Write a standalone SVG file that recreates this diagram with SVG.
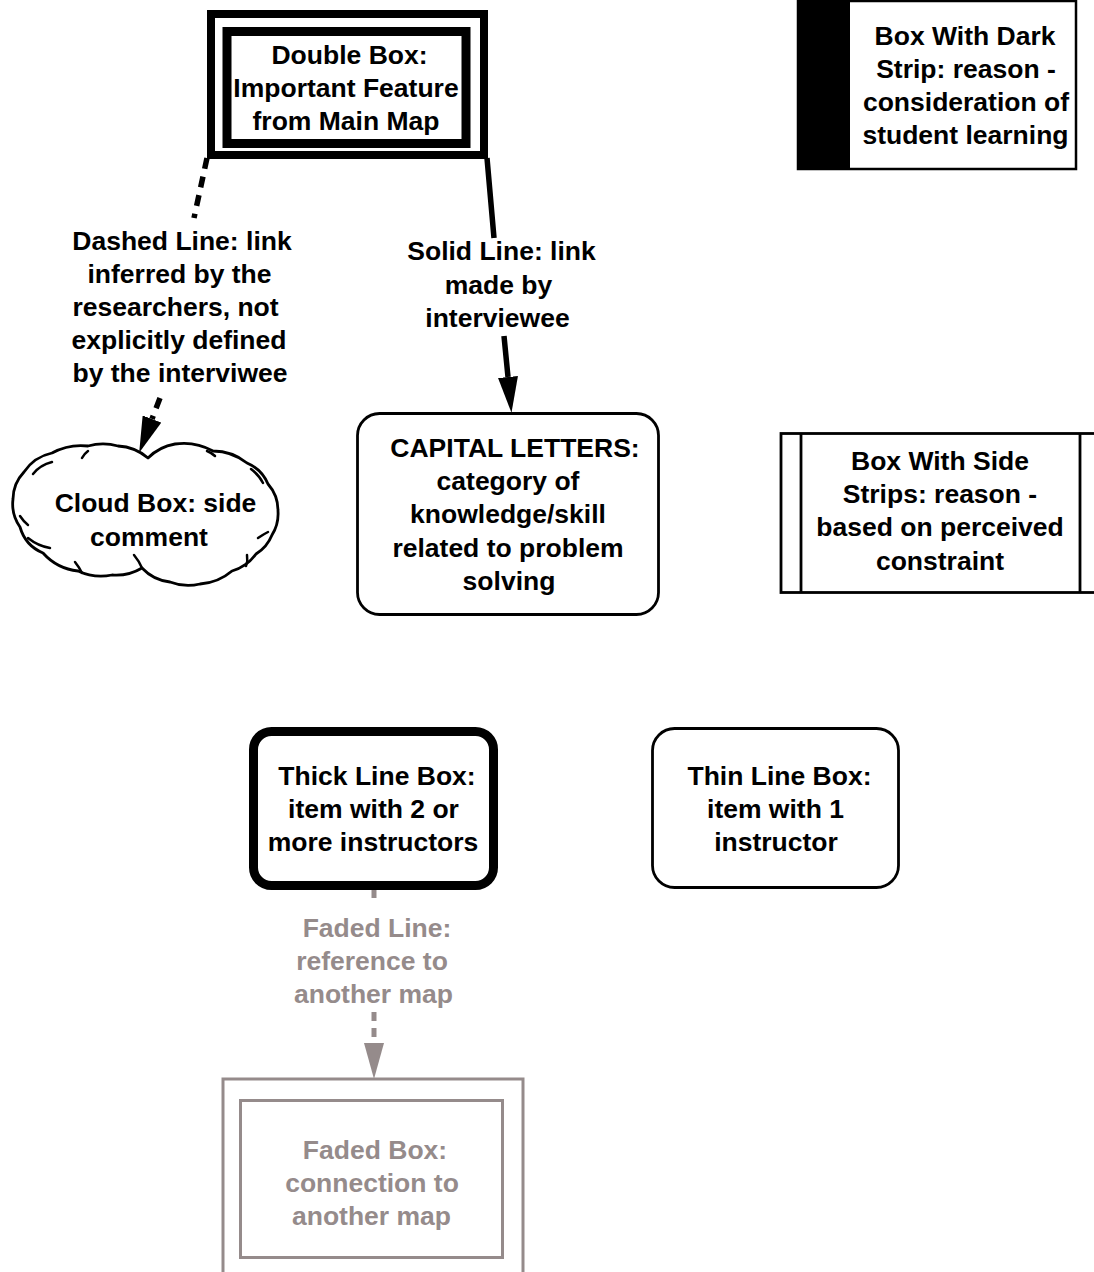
<svg xmlns="http://www.w3.org/2000/svg" width="1094" height="1272" viewBox="0 0 1094 1272">
  <style>
    .t { font-family: "Liberation Sans", Arial, sans-serif; font-weight: bold; font-size: 26.5px; text-anchor: middle; fill: #000; }
    .faded { fill: #958b8b; }
    .box { fill: #fff; stroke: #000; }
    .fbox { fill: #fff; stroke: #958b8b; stroke-width: 3; }
    .link { fill: none; stroke: #000; stroke-width: 5.5; }
    .dash { stroke-dasharray: 11 8; }
    .flink { fill: none; stroke: #958b8b; stroke-width: 5; stroke-dasharray: 9 7; }
  </style>
  <defs>
    <marker id="arrow" markerUnits="userSpaceOnUse" markerWidth="36" markerHeight="20" refX="0" refY="10" orient="auto">
      <path d="M0,0 L36,10 L0,20 z" fill="#000"/>
    </marker>
    <marker id="arrowFaded" markerUnits="userSpaceOnUse" markerWidth="36" markerHeight="20" refX="0" refY="10" orient="auto">
      <path d="M0,0 L36,10 L0,20 z" fill="#958b8b"/>
    </marker>
  </defs>

  <rect width="1094" height="1272" fill="#fff"/>

  <!-- connectors -->
  <g id="connectors">
    <path class="link dash" d="M207,158 L194,218 M160,398 L152,419" marker-end="url(#arrow)"/>
    <path class="link" d="M487,158 L494,238 M504,336 L508,377" marker-end="url(#arrow)"/>
    <path class="flink" d="M374,889 L374,904 M374,1012 L374,1043" marker-end="url(#arrowFaded)"/>
  </g>

  <!-- double box -->
  <g id="double-box">
    <rect class="box" x="211" y="14" width="273" height="141" stroke-width="8"/>
    <rect class="box" x="227" y="31.5" width="239" height="112" stroke-width="9"/>
    <text class="t" x="349.5" y="64">Double Box:</text>
    <text class="t" x="346" y="97">Important Feature</text>
    <text class="t" x="346" y="130">from Main Map</text>
  </g>

  <!-- dark strip box -->
  <g id="dark-strip-box">
    <rect class="box" x="798" y="1" width="278" height="168" stroke-width="2.5"/>
    <rect x="798" y="1" width="52" height="168" fill="#000"/>
    <text class="t" x="965" y="45">Box With Dark</text>
    <text class="t" x="966" y="78">Strip: reason -</text>
    <text class="t" x="966" y="111">consideration of</text>
    <text class="t" x="965.5" y="144">student learning</text>
  </g>

  <!-- connector labels -->
  <g id="dashed-label">
    <text class="t" x="182" y="250">Dashed Line: link</text>
    <text class="t" x="179.5" y="283">inferred by the</text>
    <text class="t" x="175.5" y="316">researchers, not</text>
    <text class="t" x="179" y="349">explicitly defined</text>
    <text class="t" x="180" y="382">by the interviwee</text>
  </g>
  <g id="solid-label">
    <text class="t" x="501.5" y="260">Solid Line: link</text>
    <text class="t" x="498.5" y="294">made by</text>
    <text class="t" x="497.5" y="327">interviewee</text>
  </g>

  <!-- cloud: two lobes with small kinks along the outline -->
  <g id="cloud-box">
    <path class="box" stroke-width="2.8" stroke-linejoin="round" d="M148,458
      A50,50 0 0 1 175,444 A60,60 0 0 1 213,451 A55,55 0 0 1 247,463
      A40,40 0 0 1 268,484 A40,40 0 0 1 278,511 A40,40 0 0 1 272,535
      A40,40 0 0 1 256,554 A45,45 0 0 1 232,571 A55,55 0 0 1 200,584
      A50,50 0 0 1 170,582 A45,45 0 0 1 142,568 A50,50 0 0 1 112,575
      A55,55 0 0 1 78,571 A55,55 0 0 1 43,553 A40,40 0 0 1 20,527
      A40,40 0 0 1 13,499 A40,40 0 0 1 24,472 A45,45 0 0 1 52,453
      A60,60 0 0 1 88,446 A55,55 0 0 1 118,446 A50,50 0 0 1 148,458 Z"/>
    <g fill="none" stroke="#000" stroke-width="2.5" stroke-linecap="round">
      <path d="M52,462 Q40,465 33,474"/>
      <path d="M88,451 Q84,454 82,458"/>
      <path d="M20,516 Q24,522 28,525"/>
      <path d="M28,538 Q38,546 50,548"/>
      <path d="M75,562 Q79,567 82,573"/>
      <path d="M134,555 Q139,561 142,568"/>
      <path d="M251,469 Q259,475 263,483"/>
      <path d="M258,538 Q264,534 268,532"/>
      <path d="M247,555 Q248,561 246,566"/>
      <path d="M207,451 Q212,453 215,456"/>
    </g>
    <text class="t" x="155.5" y="512">Cloud Box: side</text>
    <text class="t" x="149" y="546">comment</text>
  </g>

  <!-- capital letters box -->
  <g id="capital-box">
    <rect class="box" x="357.5" y="413.5" width="301" height="201" rx="22" stroke-width="2.8"/>
    <text class="t" x="515" y="457">CAPITAL LETTERS:</text>
    <text class="t" x="508" y="490">category of</text>
    <text class="t" x="508" y="523">knowledge/skill</text>
    <text class="t" x="508" y="557">related to problem</text>
    <text class="t" x="509" y="590">solving</text>
  </g>

  <!-- side strips box -->
  <g id="side-strips-box">
    <rect class="box" x="781" y="433.5" width="320" height="159" stroke-width="2.8"/>
    <line x1="801" y1="433.5" x2="801" y2="592.5" stroke="#000" stroke-width="2.8"/>
    <line x1="1080" y1="433.5" x2="1080" y2="592.5" stroke="#000" stroke-width="2.8"/>
    <text class="t" x="940" y="470">Box With Side</text>
    <text class="t" x="940" y="503">Strips: reason -</text>
    <text class="t" x="940" y="536">based on perceived</text>
    <text class="t" x="940" y="570">constraint</text>
  </g>

  <!-- thick line box -->
  <g id="thick-box">
    <rect class="box" x="253.5" y="731.5" width="240" height="154" rx="18" stroke-width="9"/>
    <text class="t" x="377" y="785">Thick Line Box:</text>
    <text class="t" x="373.5" y="818">item with 2 or</text>
    <text class="t" x="373" y="851">more instructors</text>
  </g>

  <!-- thin line box -->
  <g id="thin-box">
    <rect class="box" x="652.5" y="728.5" width="246" height="159" rx="22" stroke-width="2.8"/>
    <text class="t" x="779.5" y="785">Thin Line Box:</text>
    <text class="t" x="775.5" y="818">item with 1</text>
    <text class="t" x="776" y="851">instructor</text>
  </g>

  <!-- faded connector label -->
  <g id="faded-label">
    <text class="t faded" x="377" y="937">Faded Line:</text>
    <text class="t faded" x="372" y="970">reference to</text>
    <text class="t faded" x="373.5" y="1003">another map</text>
  </g>

  <!-- faded box -->
  <g id="faded-box">
    <rect class="fbox" x="223" y="1079" width="300" height="210"/>
    <rect class="fbox" x="240.5" y="1100.5" width="262" height="157"/>
    <text class="t faded" x="375" y="1159">Faded Box:</text>
    <text class="t faded" x="372" y="1192">connection to</text>
    <text class="t faded" x="371.5" y="1225">another map</text>
  </g>
</svg>
